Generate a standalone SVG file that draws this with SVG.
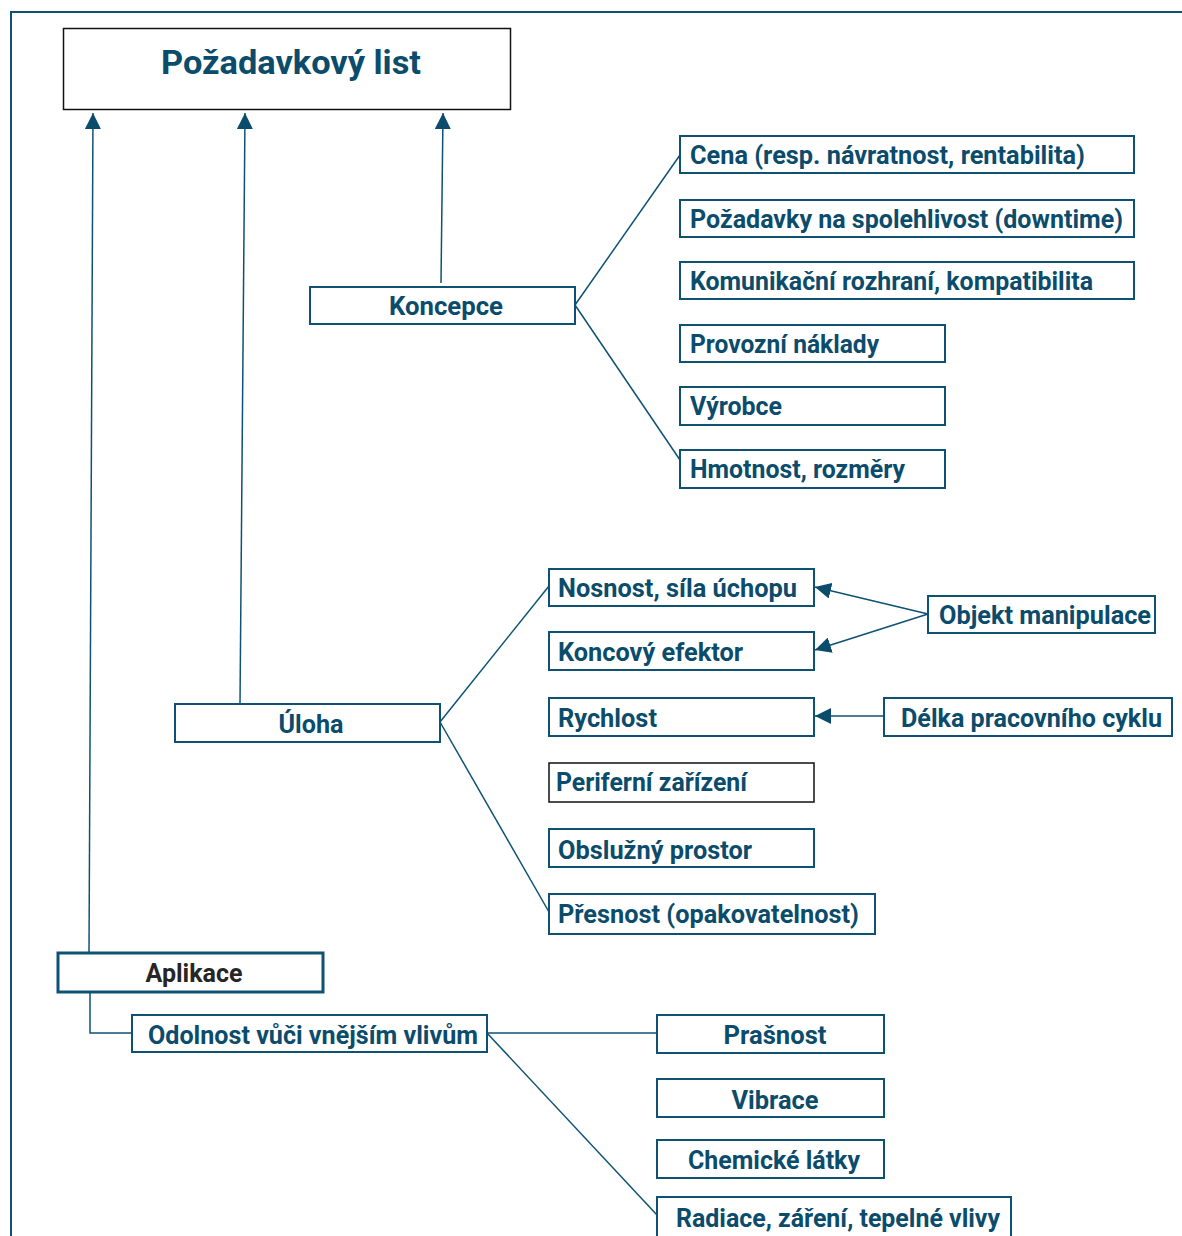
<svg xmlns="http://www.w3.org/2000/svg" width="1182" height="1236" viewBox="0 0 1182 1236">
  <style>
    .box { fill: #ffffff; stroke: #0e5273; stroke-width: 2; }
    .box-dark { fill: #ffffff; stroke: #111111; stroke-width: 1.5; }
    .box-thick { fill: #ffffff; stroke: #0e5273; stroke-width: 3; }
    .lbl { font-family: Roboto, "Liberation Sans", sans-serif; font-weight: 700; font-size: 25px; fill: #0b4c6c; }
    .mid { text-anchor: middle; }
    .edge { fill: none; stroke: #0e5273; stroke-width: 1.5; }
  </style>
  <defs>
    <marker id="head" viewBox="0 0 16 16" refX="16" refY="8" markerWidth="16" markerHeight="16" markerUnits="userSpaceOnUse" orient="auto">
      <path d="M0,0 L16,8 L0,16 Z" fill="#0b4c6c"/>
    </marker>
  </defs>

  <!-- page frame -->
  <path d="M11,1236 L11,12 L1182,12" fill="none" stroke="#0e5273" stroke-width="2"/>

  <!-- connectors -->
  <g id="connectors">
    <path class="edge" d="M89,953 L93,113" marker-end="url(#head)"/>
    <path class="edge" d="M240,704 L245,113" marker-end="url(#head)"/>
    <path class="edge" d="M441,283 L443,113" marker-end="url(#head)"/>
    <path class="edge" d="M575,305 L680,155"/>
    <path class="edge" d="M575,305 L680,460"/>
    <path class="edge" d="M440,722 L549,586"/>
    <path class="edge" d="M440,722 L549,912"/>
    <path class="edge" d="M928,614 L815,587" marker-end="url(#head)"/>
    <path class="edge" d="M928,614 L815,650" marker-end="url(#head)"/>
    <path class="edge" d="M884,716 L815,716" marker-end="url(#head)"/>
    <path class="edge" d="M90,992 L90,1033 L132,1033"/>
    <path class="edge" d="M487,1033 L657,1033"/>
    <path class="edge" d="M487,1033 L657,1215"/>
  </g>

  <!-- root -->
  <g id="node-pozadavkovy-list">
    <rect class="box-dark" x="63.5" y="28.5" width="447" height="81"/>
    <text class="lbl mid" x="291" y="74" style="font-size:34px" textLength="260" lengthAdjust="spacingAndGlyphs">Požadavkový list</text>
  </g>

  <!-- Koncepce branch -->
  <g id="node-koncepce">
    <rect class="box" x="310" y="287" width="265" height="37"/>
    <text class="lbl mid" x="446" y="315" textLength="114" lengthAdjust="spacingAndGlyphs">Koncepce</text>
  </g>
  <g id="node-cena">
    <rect class="box" x="680" y="136" width="454" height="37"/>
    <text class="lbl" x="690" y="164" textLength="395" lengthAdjust="spacingAndGlyphs">Cena (resp. návratnost, rentabilita)</text>
  </g>
  <g id="node-spolehlivost">
    <rect class="box" x="680" y="200" width="454" height="37"/>
    <text class="lbl" x="690" y="228" textLength="433" lengthAdjust="spacingAndGlyphs">Požadavky na spolehlivost (downtime)</text>
  </g>
  <g id="node-rozhrani">
    <rect class="box" x="680" y="262" width="454" height="37"/>
    <text class="lbl" x="690" y="290" textLength="403" lengthAdjust="spacingAndGlyphs">Komunikační rozhraní, kompatibilita</text>
  </g>
  <g id="node-naklady">
    <rect class="box" x="680" y="325" width="265" height="37"/>
    <text class="lbl" x="690" y="353" textLength="189" lengthAdjust="spacingAndGlyphs">Provozní náklady</text>
  </g>
  <g id="node-vyrobce">
    <rect class="box" x="680" y="387" width="265" height="38"/>
    <text class="lbl" x="690" y="415" textLength="92" lengthAdjust="spacingAndGlyphs">Výrobce</text>
  </g>
  <g id="node-hmotnost">
    <rect class="box" x="680" y="450" width="265" height="38"/>
    <text class="lbl" x="690" y="478" textLength="215" lengthAdjust="spacingAndGlyphs">Hmotnost, rozměry</text>
  </g>

  <!-- Úloha branch -->
  <g id="node-uloha">
    <rect class="box" x="175" y="704" width="265" height="38"/>
    <text class="lbl mid" x="311" y="733" textLength="65" lengthAdjust="spacingAndGlyphs">Úloha</text>
  </g>
  <g id="node-nosnost">
    <rect class="box" x="549" y="569" width="265" height="37"/>
    <text class="lbl" x="558" y="597" textLength="239" lengthAdjust="spacingAndGlyphs">Nosnost, síla úchopu</text>
  </g>
  <g id="node-efektor">
    <rect class="box" x="549" y="632" width="265" height="38"/>
    <text class="lbl" x="558" y="661" textLength="185" lengthAdjust="spacingAndGlyphs">Koncový efektor</text>
  </g>
  <g id="node-rychlost">
    <rect class="box" x="549" y="698" width="265" height="38"/>
    <text class="lbl" x="558" y="727" textLength="99" lengthAdjust="spacingAndGlyphs">Rychlost</text>
  </g>
  <g id="node-periferni">
    <rect class="box-dark" x="549" y="763" width="265" height="39"/>
    <text class="lbl" x="556" y="791" textLength="191" lengthAdjust="spacingAndGlyphs">Periferní zařízení</text>
  </g>
  <g id="node-prostor">
    <rect class="box" x="549" y="829" width="265" height="38"/>
    <text class="lbl" x="558" y="859" textLength="194" lengthAdjust="spacingAndGlyphs">Obslužný prostor</text>
  </g>
  <g id="node-presnost">
    <rect class="box" x="549" y="894" width="326" height="40"/>
    <text class="lbl" x="558" y="923" textLength="301" lengthAdjust="spacingAndGlyphs">Přesnost (opakovatelnost)</text>
  </g>
  <g id="node-objekt">
    <rect class="box" x="928" y="596" width="227" height="37"/>
    <text class="lbl" x="939" y="624" textLength="212" lengthAdjust="spacingAndGlyphs">Objekt manipulace</text>
  </g>
  <g id="node-cyklus">
    <rect class="box" x="884" y="698" width="288" height="38"/>
    <text class="lbl" x="901" y="727" textLength="261" lengthAdjust="spacingAndGlyphs">Délka pracovního cyklu</text>
  </g>

  <!-- Aplikace branch -->
  <g id="node-aplikace">
    <rect class="box-thick" x="58" y="953" width="265" height="39"/>
    <text class="lbl mid" x="194" y="982" style="fill:#262626" textLength="97" lengthAdjust="spacingAndGlyphs">Aplikace</text>
  </g>
  <g id="node-odolnost">
    <rect class="box" x="132" y="1015" width="355" height="37"/>
    <text class="lbl" x="148" y="1044" textLength="330" lengthAdjust="spacingAndGlyphs">Odolnost vůči vnějším vlivům</text>
  </g>
  <g id="node-prasnost">
    <rect class="box" x="657" y="1015" width="227" height="38"/>
    <text class="lbl mid" x="775" y="1044" textLength="103" lengthAdjust="spacingAndGlyphs">Prašnost</text>
  </g>
  <g id="node-vibrace">
    <rect class="box" x="657" y="1079" width="227" height="38"/>
    <text class="lbl mid" x="775" y="1109" textLength="87" lengthAdjust="spacingAndGlyphs">Vibrace</text>
  </g>
  <g id="node-chemicke">
    <rect class="box" x="657" y="1140" width="227" height="38"/>
    <text class="lbl mid" x="774" y="1169" textLength="172" lengthAdjust="spacingAndGlyphs">Chemické látky</text>
  </g>
  <g id="node-radiace">
    <rect class="box" x="657" y="1197" width="354" height="40"/>
    <text class="lbl" x="676" y="1227" textLength="324" lengthAdjust="spacingAndGlyphs">Radiace, záření, tepelné vlivy</text>
  </g>
</svg>
